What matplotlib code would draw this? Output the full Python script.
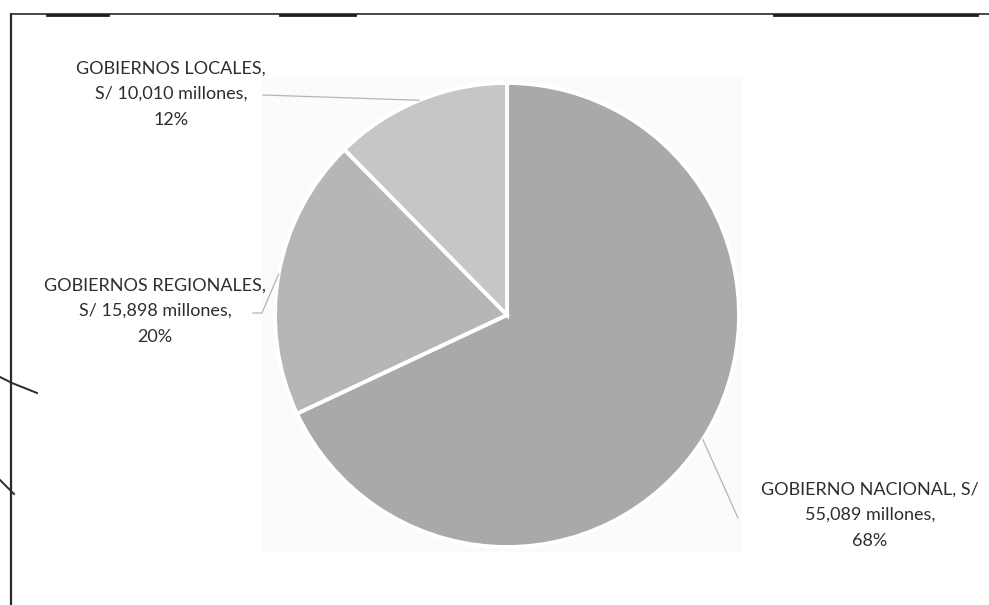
import numpy as np
import matplotlib as mpl

mpl.use("Agg")
import matplotlib.pyplot as plt  # noqa: E402

W, H = 989, 605

categories = ["GOBIERNO NACIONAL", "GOBIERNOS REGIONALES", "GOBIERNOS LOCALES"]
amounts = [55089, 15898, 10010]  # millones de soles
colors = ["#a9a9a9", "#b6b6b6", "#c6c6c6"]


def py(y):
    # image rows (top = 0) -> axis coords (bottom = 0)
    return H - y


total = sum(amounts)
pcts = [round(100 * a / total) for a in amounts]

labels = [
    f"{categories[0]}, S/\n{amounts[0]:,} millones,\n{pcts[0]}%",
    f"{categories[1]},\nS/ {amounts[1]:,} millones,\n{pcts[1]}%",
    f"{categories[2]},\nS/ {amounts[2]:,} millones,\n{pcts[2]}%",
]
# label centre (x, y of middle line) and leader line path after the wedge edge
label_pos = [(870, 515), (155, 311), (171, 94)]
leader_tail = [[(738, 518)], [(262, 313), (253, 313)], [(263, 95)]]

fig = plt.figure(figsize=(W / 100, H / 100), dpi=100)
ax = fig.add_axes([0, 0, 1, 1])

cx, cy, r = 507, py(315), 232

# faint plot-area box behind the pie
ax.add_patch(plt.Rectangle((262, py(552)), 480, 474, facecolor="#fbfbfb", edgecolor="none", zorder=0))

wedges, _ = ax.pie(
    amounts,
    colors=colors,
    startangle=90,
    counterclock=False,
    center=(cx, cy),
    radius=r,
    wedgeprops={"edgecolor": "white", "linewidth": 2.8},
)

for w, lab, (lx, ly), tail in zip(wedges, labels, label_pos, leader_tail):
    mid = np.deg2rad((w.theta1 + w.theta2) / 2)
    ex, ey = cx + r * np.cos(mid), cy + r * np.sin(mid)
    xs = [ex] + [p[0] for p in tail]
    ys = [ey] + [py(p[1]) for p in tail]
    ax.plot(xs, ys, color="#b4b4b4", lw=0.9, zorder=1)
    ax.text(lx, py(ly), lab, ha="center", va="center", multialignment="center",
            fontsize=13, family="Lato", color="#2e2e2e", linespacing=1.75)

# scanned frame and pen marks
ax.plot([11, 11], [py(14), py(605)], color="#2a2a2a", lw=1.6)
ax.plot([11, 989], [py(14), py(14)], color="#3a3a3a", lw=1.3)
for x0, x1 in [(47, 108), (280, 355), (774, 977)]:
    ax.plot([x0, x1], [py(15), py(15)], color="#1e1e1e", lw=2.0)
ax.plot([0, 12, 37], [py(377), py(383), py(393)], color="#2a2a2a", lw=1.4)
ax.plot([0, 10, 14], [py(480), py(490), py(494)], color="#2a2a2a", lw=1.4)

ax.set_xlim(0, W)
ax.set_ylim(0, H)
ax.set_aspect("auto")
ax.axis("off")

fig.savefig("out.png", dpi=100, facecolor="white")
